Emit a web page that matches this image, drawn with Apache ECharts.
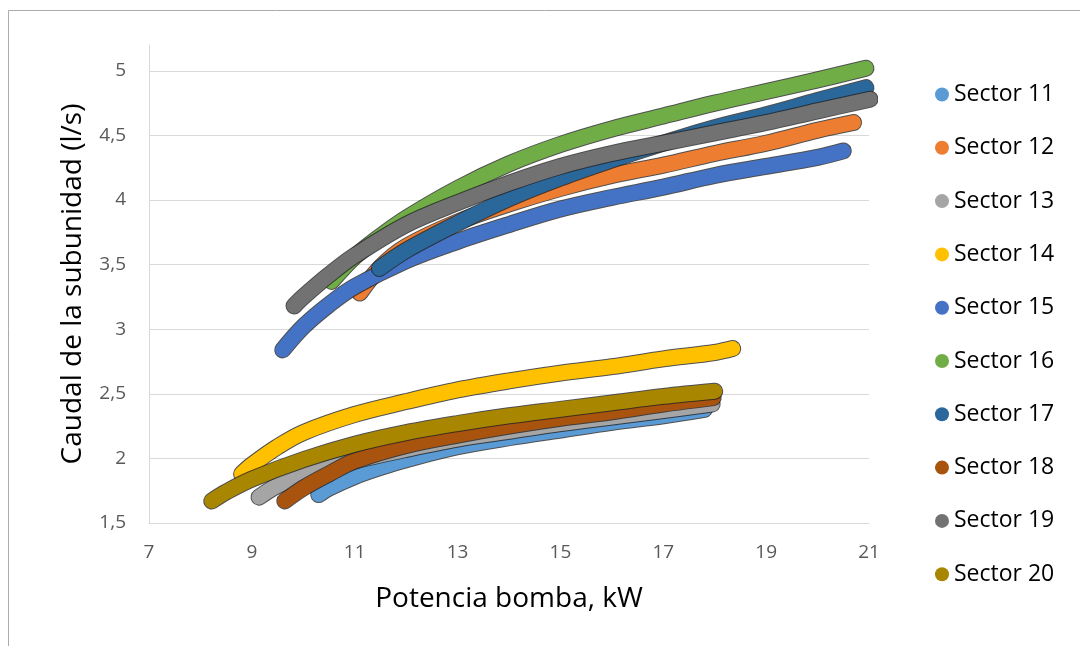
<!DOCTYPE html>
<html>
<head>
<meta charset="utf-8">
<script src="https://cdn.jsdelivr.net/npm/echarts@6/dist/echarts.min.js"></script>
<style>
html,body{margin:0;padding:0;background:#fff;overflow:hidden;}
#chart{width:1080px;height:646px;}
</style>
</head>
<body>
<div id="chart"></div>
<script>
// Data: [Potencia bomba kW, Caudal l/s]
const s11 = [[10.3,1.72],[10.5,1.77],[11,1.86],[11.5,1.93],[12,1.99],[13,2.09],[14,2.16],[15,2.22],[16,2.28],[17,2.33],[17.8,2.38]];
const s12 = [[11.1,3.28],[11.5,3.48],[12,3.64],[13,3.83],[14,3.97],[15,4.09],[16,4.19],[17,4.27],[18,4.36],[19,4.44],[20,4.54],[20.7,4.6]];
const s13 = [[9.14,1.7],[9.5,1.79],[10,1.87],[11,1.98],[12,2.07],[13,2.15],[14,2.21],[15,2.27],[16,2.32],[17,2.37],[17.95,2.42]];
const s14 = [[8.8,1.88],[9,1.95],[9.5,2.09],[10,2.2],[11,2.34],[12,2.44],[13,2.53],[14,2.6],[15,2.66],[16,2.71],[17,2.77],[18,2.82],[18.35,2.85]];
const s15 = [[9.6,2.84],[10,3.02],[10.5,3.19],[11,3.33],[12,3.53],[13,3.68],[14,3.81],[15,3.93],[16,4.02],[17,4.1],[18,4.19],[19,4.26],[20,4.33],[20.5,4.38]];
const s16 = [[10.55,3.37],[11,3.56],[11.5,3.72],[12,3.86],[13,4.09],[14,4.28],[15,4.43],[16,4.55],[17,4.65],[18,4.75],[19,4.84],[20,4.93],[20.94,5.02]];
const s17 = [[11.48,3.47],[12,3.61],[13,3.82],[14,4.01],[15,4.17],[16,4.31],[17,4.44],[18,4.56],[19,4.66],[20,4.77],[20.94,4.87]];
const s18 = [[9.64,1.67],[10,1.77],[10.5,1.88],[11,1.98],[12,2.1],[13,2.18],[14,2.25],[15,2.31],[16,2.36],[17,2.42],[17.97,2.47]];
const s19 = [[9.82,3.18],[10,3.25],[10.5,3.42],[11,3.57],[12,3.81],[13,3.98],[14,4.13],[15,4.26],[16,4.36],[17,4.44],[18,4.52],[19,4.6],[20,4.69],[21.02,4.78]];
const s20 = [[8.22,1.67],[8.5,1.74],[9,1.84],[10,1.99],[11,2.11],[12,2.2],[13,2.27],[14,2.33],[15,2.38],[16,2.43],[17,2.48],[18,2.52]];

const seriesNames = ['Sector 11','Sector 12','Sector 13','Sector 14','Sector 15','Sector 16','Sector 17','Sector 18','Sector 19','Sector 20'];
const seriesData = [s11,s12,s13,s14,s15,s16,s17,s18,s19,s20];
const colors = ['#5B9BD5','#ED7D31','#A5A5A5','#FFC000','#4472C4','#70AD47','#2A679B','#A8540F','#727272','#A88600'];

const xAxisTitle = 'Potencia bomba, kW';
const yAxisTitle = 'Caudal de la subunidad (l/s)';

const FONT = '"Open Sans", sans-serif';

const series = [];
seriesData.forEach(function (d, i) {
  series.push({
    type: 'line', name: '_edge' + i, data: d, symbol: 'none', smooth: 0.35,
    silent: true, animation: false,
    lineStyle: { width: 17, color: 'rgba(35,35,35,0.8)', cap: 'round', join: 'round' },
    itemStyle: { color: 'rgba(35,35,35,0.8)' }
  });
  series.push({
    type: 'line', name: seriesNames[i], data: d, symbol: 'none', smooth: 0.35,
    animation: false,
    lineStyle: { width: 15, color: colors[i], cap: 'round', join: 'round' },
    itemStyle: { color: colors[i] }
  });
});

const chart = echarts.init(document.getElementById('chart'), null, { renderer: 'canvas' });
chart.setOption({
  animation: false,
  backgroundColor: '#fff',
  graphic: [{
    type: 'rect', silent: true, z: -10,
    shape: { x: 8.5, y: 10.5, width: 2000, height: 2000 },
    style: { fill: 'none', stroke: '#ababab', lineWidth: 1 }
  }],
  grid: { left: 149, top: 45, right: 211, bottom: 123 },
  legend: {
    data: seriesNames,
    orient: 'vertical',
    left: 930, top: 78,
    icon: 'circle',
    itemWidth: 14, itemHeight: 14,
    itemGap: 30.3,
    textStyle: { fontFamily: FONT, fontSize: 23, color: '#000', lineHeight: 22 }
  },
  xAxis: {
    type: 'value', min: 7, max: 21, interval: 2,
    name: xAxisTitle, nameLocation: 'middle', nameGap: 62,
    nameTextStyle: { fontFamily: FONT, fontSize: 28, color: '#000' },
    axisLine: { show: true, onZero: false, lineStyle: { color: '#d9d9d9', width: 1 } },
    axisTick: { show: false },
    splitLine: { show: false },
    axisLabel: { margin: 20, fontFamily: FONT, fontSize: 19, color: '#595959' }
  },
  yAxis: {
    type: 'value', min: 1.5, max: 5.2, interval: 0.5,
    name: yAxisTitle, nameLocation: 'middle', nameGap: 62,
    nameTextStyle: { fontFamily: FONT, fontSize: 28, color: '#000' },
    axisLine: { show: true, lineStyle: { color: '#d9d9d9', width: 1 } },
    axisTick: { show: false },
    splitLine: { show: true, showMaxLine: false, lineStyle: { color: '#d9d9d9', width: 1 } },
    axisLabel: {
      margin: 23, fontFamily: FONT, fontSize: 19, color: '#595959', showMaxLabel: false,
      formatter: function (v) { return String(v).replace('.', ','); }
    }
  },
  series: series
});
</script>
</body>
</html>
